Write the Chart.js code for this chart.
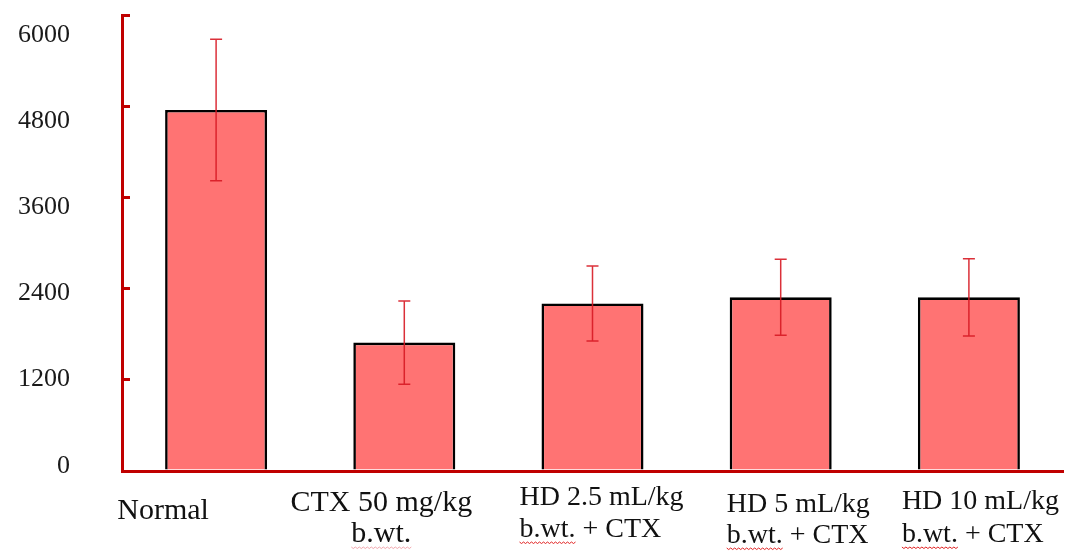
<!DOCTYPE html>
<html>
<head>
<meta charset="utf-8">
<script src="https://cdn.jsdelivr.net/npm/chart.js@4"></script>
<style>
  html, body { margin: 0; padding: 0; background: #fff; }
  #wrap { width: 1069px; height: 555px; }
</style>
</head>
<body>
<div id="wrap"><canvas id="myChart"></canvas></div>
<script>
// datos
var grupos = [
  ['Normal'],
  ['CTX 50 mg/kg', 'b.wt.'],
  ['HD 2.5 mL/kg', 'b.wt. + CTX'],
  ['HD 5 mL/kg', 'b.wt. + CTX'],
  ['HD 10 mL/kg', 'b.wt. + CTX']
];
var medias = [4750, 1690, 2205, 2285, 2285];
var errores = [932, 548, 493, 500, 508];
var ticksY = [0, 1200, 2400, 3600, 4800, 6000];

// estilo de las etiquetas del eje x (desplazamientos en px)
var estiloEtiquetas = [
  { align: 'center', dx: -53, size: 30, base: [48] },
  { align: 'center', dx: -23, size: 30, base: [40, 71], subrayado: 'rgba(235,130,140,0.7)' },
  { align: 'left', dx: -73, size: 28, base: [34, 66], subrayado: '#E02020' },
  { align: 'left', dx: -54, size: 28, base: [41, 72], subrayado: '#E02020' },
  { align: 'left', dx: -67, size: 28, base: [38, 71], subrayado: '#E02020' }
];

var rojoEje = '#C00000';

var barrasError = {
  id: 'barrasError',
  afterDatasetsDraw: function (chart) {
    var ctx = chart.ctx;
    var y = chart.scales.y;
    var meta = chart.getDatasetMeta(0);
    ctx.save();
    ctx.strokeStyle = 'rgba(215,25,35,0.9)';
    ctx.lineWidth = 1.5;
    meta.data.forEach(function (barra, i) {
      var x = barra.x;
      var arriba = y.getPixelForValue(medias[i] + errores[i]);
      var abajo = y.getPixelForValue(medias[i] - errores[i]);
      ctx.beginPath();
      ctx.moveTo(x, arriba); ctx.lineTo(x, abajo);
      ctx.moveTo(x - 6, arriba); ctx.lineTo(x + 6, arriba);
      ctx.moveTo(x - 6, abajo); ctx.lineTo(x + 6, abajo);
      ctx.stroke();
    });
    ctx.restore();
  }
};

var etiquetasX = {
  id: 'etiquetasX',
  afterDraw: function (chart) {
    var ctx = chart.ctx;
    var ex = chart.scales.x;
    grupos.forEach(function (lineas, i) {
      var est = estiloEtiquetas[i];
      var cx = ex.getPixelForValue(i) + est.dx;
      ctx.save();
      ctx.font = est.size + 'px "Liberation Serif"';
      ctx.fillStyle = '#111';
      ctx.textAlign = est.align;
      ctx.textBaseline = 'alphabetic';
      lineas.forEach(function (t, j) {
        var yb = ex.top + est.base[j];
        ctx.fillText(t, cx, yb);
        if (j === 1 && est.subrayado) {
          var ancho = ctx.measureText('b.wt.').width;
          var x0 = est.align === 'left' ? cx : cx - ctx.measureText(t).width / 2;
          ctx.beginPath();
          ctx.strokeStyle = est.subrayado;
          ctx.lineWidth = 1;
          for (var k = 0; k <= ancho; k += 2) {
            var yy = yb + 5 + ((k / 2) % 2 === 0 ? 0 : 1.5);
            if (k === 0) ctx.moveTo(x0 + k, yy); else ctx.lineTo(x0 + k, yy);
          }
          ctx.stroke();
        }
      });
      ctx.restore();
    });
  }
};

function fijarTicks(escala) {
  escala.ticks = ticksY.map(function (v) { return { value: v }; });
}

var ctx = document.getElementById('myChart');

var myChart = new Chart(ctx, {
  type: 'bar',
  data: {
    labels: grupos,
    datasets: [{
      data: medias,
      backgroundColor: '#FF7373',
      borderColor: '#000000',
      borderWidth: 2.6,
      barPercentage: 0.542,
      categoryPercentage: 1.0
    }]
  },
  options: {
    responsive: true,
    maintainAspectRatio: false,
    animation: false,
    layout: { padding: { left: 0, right: 6, top: 0, bottom: 0 } },
    plugins: {
      legend: { display: false },
      tooltip: { enabled: false }
    },
    scales: {
      x: {
        grid: { display: false, drawTicks: false },
        border: { color: rojoEje, width: 3, z: 1 },
        ticks: { display: false },
        afterFit: function (s) { s.height = 84; }
      },
      y: {
        min: 0,
        max: 6000,
        afterBuildTicks: fijarTicks,
        ticks: { display: false },
        grid: { drawOnChartArea: false, drawTicks: true, tickLength: -8, color: rojoEje, lineWidth: 3 },
        border: { color: rojoEje, width: 3 },
        afterFit: function (s) { s.width = 42; s.paddingTop = 0; s.paddingBottom = 0; }
      },
      yl: {
        position: 'left',
        weight: 1,
        min: -74,
        max: 6282,
        afterBuildTicks: fijarTicks,
        grid: { display: false, drawTicks: false },
        border: { display: false },
        ticks: {
          padding: 10,
          color: '#1a1a1a',
          font: { family: '"Liberation Serif"', size: 26 },
          callback: function (v) { return String(v); }
        },
        afterFit: function (s) { s.width = 80; s.paddingTop = 15; s.paddingBottom = 0; }
      }
    }
  },
  plugins: [barrasError, etiquetasX]
});
</script>
</body>
</html>
